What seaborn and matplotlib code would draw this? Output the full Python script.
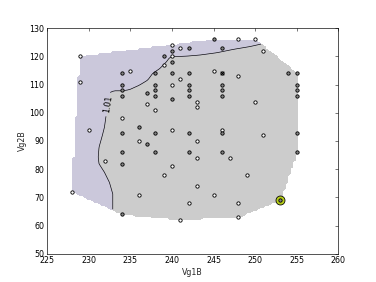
import numpy as np
import pandas as pd
import matplotlib
matplotlib.use("Agg")
import matplotlib.pyplot as plt
from matplotlib.path import Path
import seaborn as sns

# ---------------- data ----------------
white_x = [228, 229, 229, 230, 232, 235, 234, 236, 236, 237, 238, 239, 239, 240, 240, 240, 240, 240,
           241, 241, 241, 242, 243, 243, 243, 243, 243, 245, 245, 246, 247, 248, 248, 248, 248, 249,
           250, 250, 251, 251]
white_y = [72, 120, 111, 94, 83, 115, 98, 90, 71, 103, 101, 117, 78, 124, 120, 110, 94, 81,
           123, 112, 62, 68, 104, 102, 90, 84, 74, 115, 71, 94, 84, 126, 113, 68, 63, 78,
           126, 104, 122, 92]
gray_x = [234, 234, 234, 234, 234, 234, 234, 234, 236, 237, 237, 238, 238, 238, 238, 238, 238, 239,
          240, 240, 240, 240, 242, 242, 242, 242, 242, 242, 242, 245, 246, 246, 246, 246, 246, 246,
          246, 253, 254, 255, 255, 255, 255, 255, 255]
gray_y = [114, 110, 108, 106, 93, 86, 82, 64, 95, 107, 89, 114, 110, 108, 106, 93, 86, 120,
          122, 118, 114, 105, 123, 114, 110, 108, 106, 93, 86, 126, 123, 114, 110, 108, 106, 93,
          86, 69, 114, 114, 110, 108, 106, 93, 86]
cross_x = [246]
cross_y = [114]
best_x = [253]
best_y = [69]

# contour level 1.01
contour_level = 1.01
curve_x = [232.9, 232.9, 232.9, 232.9, 232.5, 231.9, 231.25, 231.15, 231.25, 231.65, 231.9, 232.1,
           232.3, 232.45, 232.6, 233.1, 234.1, 234.9, 236.1, 237.1, 237.7, 238.55, 239.35, 239.75,
           240.15, 241.8, 243.4, 245.4, 247.4, 249.4, 250.6, 252.5]
curve_y = [55.0, 62.0, 66.2, 71.2, 75.3, 78.9, 81.9, 84.2, 87.8, 92.0, 94.9, 99.1,
           102.5, 105.6, 107.4, 107.8, 107.8, 108.2, 109.8, 111.6, 114.0, 115.7, 118.1, 119.7,
           119.9, 120.1, 120.5, 121.3, 122.5, 123.5, 124.3, 125.6]

xticks = [225, 230, 235, 240, 245, 250, 255, 260]
yticks = [50, 60, 70, 80, 90, 100, 110, 120, 130]

# ---------------- style ----------------
sns.set_style("white")
plt.rcParams.update({
    "font.family": ["DejaVu Sans"],
    "font.size": 12,
    "xtick.direction": "in",
    "ytick.direction": "in",
    "xtick.top": True,
    "ytick.right": True,
    "xtick.major.size": 4,
    "ytick.major.size": 4,
    "xtick.major.pad": 4,
    "ytick.major.pad": 4,
    "xtick.labelsize": 12,
    "ytick.labelsize": 12,
    "axes.edgecolor": "black",
    "axes.linewidth": 1.0,
    "xtick.color": "black",
    "ytick.color": "black",
})

fig = plt.figure(figsize=(8, 6), dpi=47)
ax = fig.add_axes([0.125, 0.1, 0.775, 0.8])

# ---------------- field from data ----------------
all_x = np.array(white_x + gray_x, dtype=float)
all_y = np.array(white_y + gray_y, dtype=float)


def convex_hull(px, py):
    pts = sorted(set(zip(px, py)))

    def cross(o, a, b):
        return (a[0] - o[0]) * (b[1] - o[1]) - (a[1] - o[1]) * (b[0] - o[0])

    lower, upper = [], []
    for p in pts:
        while len(lower) >= 2 and cross(lower[-2], lower[-1], p) <= 0:
            lower.pop()
        lower.append(p)
    for p in reversed(pts):
        while len(upper) >= 2 and cross(upper[-2], upper[-1], p) <= 0:
            upper.pop()
        upper.append(p)
    return np.array(lower[:-1] + upper[:-1])


hull = convex_hull(all_x, all_y)
gx = np.arange(226.0, 257.0, 0.3)
gy = np.arange(58.0, 129.0, 0.6)
GX, GY = np.meshgrid(gx, gy)
pts = np.column_stack([GX.ravel(), GY.ravel()])
inside = Path(hull).contains_points(pts, radius=0.3).reshape(GX.shape)

cx = np.array(curve_x)
cy = np.array(curve_y)
# lavender side: left / above the contour
lav_poly = np.vstack([np.column_stack([cx, cy]),
                      [[cx[-1], 135.0], [220.0, 135.0], [220.0, cy[0]]]])
sign = np.where(Path(lav_poly).contains_points(pts).reshape(GX.shape), 1.0, -1.0)

# distance to the contour polyline
dmin = np.full(GX.shape, np.inf)
for i in range(len(cx) - 1):
    ax0, ay0, bx, by = cx[i], cy[i], cx[i + 1], cy[i + 1]
    vx, vy = bx - ax0, by - ay0
    t = ((GX - ax0) * vx + (GY - ay0) * vy) / (vx * vx + vy * vy)
    t = np.clip(t, 0, 1)
    d = np.hypot(GX - (ax0 + t * vx), GY - (ay0 + t * vy))
    dmin = np.minimum(dmin, d)

Z = contour_level + 0.01 * sign * dmin
Z = np.ma.masked_where(~inside, Z)

ax.contourf(GX, GY, Z, levels=[-100, contour_level, 100],
            colors=["#cccccc", "#cbc8db"], antialiased=False)
cs = ax.contour(GX, GY, Z, levels=[contour_level], colors="black", linewidths=1.0)
ax.clabel(cs, fmt="%.2f", fontsize=12, inline=True, manual=[(232.3, 103.0)])

# ---------------- points ----------------
df_white = pd.DataFrame({"Vg1B": white_x, "Vg2B": white_y})
df_gray = pd.DataFrame({"Vg1B": gray_x, "Vg2B": gray_y})

sns.scatterplot(data=pd.DataFrame({"Vg1B": best_x, "Vg2B": best_y}), x="Vg1B", y="Vg2B",
                ax=ax, s=190, color="#b5cc18", edgecolor="black", linewidth=1.2, zorder=4)
sns.scatterplot(data=df_white, x="Vg1B", y="Vg2B", ax=ax, s=26, color="white",
                edgecolor="black", linewidth=1.3, zorder=5)
sns.scatterplot(data=df_gray, x="Vg1B", y="Vg2B", ax=ax, s=26, color="#858585",
                edgecolor="black", linewidth=1.3, zorder=5)
sns.scatterplot(data=pd.DataFrame({"Vg1B": cross_x, "Vg2B": cross_y}), x="Vg1B", y="Vg2B",
                ax=ax, s=30, marker="x", color="black", linewidth=1.3, zorder=6)

ax.set_xlim(225, 260)
ax.set_ylim(50, 130)
ax.set_xticks(xticks)
ax.set_yticks(yticks)
ax.set_xlabel("Vg1B", fontsize=12)
ax.set_ylabel("Vg2B", fontsize=12)
for s in ax.spines.values():
    s.set_visible(True)
    s.set_color("black")

fig.savefig("out.png", dpi=47, facecolor="white")
